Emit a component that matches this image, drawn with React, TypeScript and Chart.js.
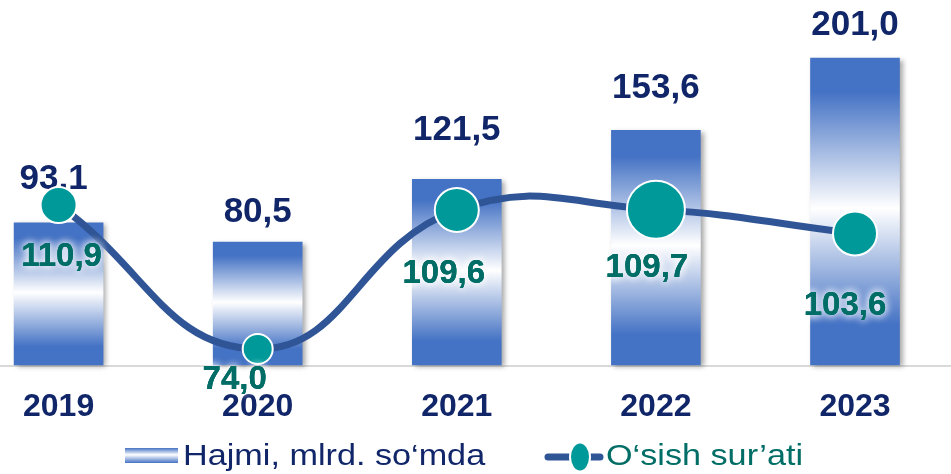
import React, { useEffect, useRef } from 'react';
import { Chart, registerables } from 'chart.js';

Chart.register(...registerables);

// ---- data ----
const years = ['2019', '2020', '2021', '2022', '2023'];
const volume = [93.1, 80.5, 121.5, 153.6, 201.0];
const growth = [110.9, 74.0, 109.6, 109.7, 103.6];
const volumeLabel = 'Hajmi, mlrd. so‘mda';
const growthLabel = 'O‘sish sur’ati';

// ---- styles ----
const FONT = '"Liberation Sans", Arial, sans-serif';
const NAVY = '#102669';
const TEAL_TEXT = '#006E66';
const BAR_BLUE = '#4472C4';
const LINE_BLUE = '#2F5597';
const MARKER = '#009999';
const markerRadius = [18, 15, 22, 29, 22];
const barLabelLift = [43, 30, 49, 42, 33];
const barLabelShiftX = [-5, 0, 0, 0, 0];
const growthLabelDrop = [52, 31, 64, 58, 72];
const growthLabelShiftX = [3, -23, -13, -9, -10];

const fmt = (v: number) => v.toFixed(1).replace('.', ',');

function barGradient(ctx: CanvasRenderingContext2D, top: number, bottom: number) {
  const g = ctx.createLinearGradient(0, top, 0, bottom);
  g.addColorStop(0, BAR_BLUE);
  g.addColorStop(0.11, BAR_BLUE);
  g.addColorStop(0.49, '#FFFFFF');
  g.addColorStop(0.87, BAR_BLUE);
  g.addColorStop(1, BAR_BLUE);
  return g;
}

const decorPlugin = {
  id: 'decor',
  beforeDatasetsDraw(chart: any) {
    const ctx = chart.ctx;
    const y0 = chart.scales.y.getPixelForValue(0);
    ctx.save();
    ctx.strokeStyle = '#D9D9D9';
    ctx.lineWidth = 2;
    ctx.beginPath();
    ctx.moveTo(0, y0 + 1);
    ctx.lineTo(chart.width, y0 + 1);
    ctx.stroke();
    ctx.restore();
  },
  beforeDatasetDraw(chart: any, args: any) {
    if (args.index === 1) {
      const ctx = chart.ctx;
      ctx.save();
      ctx.shadowColor = 'rgba(0,0,0,0.35)';
      ctx.shadowBlur = 5;
      ctx.shadowOffsetX = 3;
      ctx.shadowOffsetY = 2;
    }
  },
  afterDatasetDraw(chart: any, args: any) {
    if (args.index === 1) {
      const ctx = chart.ctx;
      ctx.restore();
      // bar value labels (under the line)
      const meta = chart.getDatasetMeta(1);
      ctx.save();
      ctx.textAlign = 'center';
      ctx.textBaseline = 'middle';
      ctx.font = `bold 35px ${FONT}`;
      ctx.fillStyle = NAVY;
      meta.data.forEach((el: any, i: number) => {
        ctx.fillText(fmt(volume[i]), el.x + barLabelShiftX[i], el.y - barLabelLift[i]);
      });
      ctx.restore();
    }
  },
  afterDatasetsDraw(chart: any) {
    const ctx = chart.ctx;
    const meta = chart.getDatasetMeta(0);
    ctx.save();
    ctx.textAlign = 'center';
    ctx.textBaseline = 'middle';
    ctx.font = `bold 33px ${FONT}`;
    meta.data.forEach((el: any, i: number) => {
      const x = el.x + growthLabelShiftX[i];
      const y = el.y + growthLabelDrop[i];
      ctx.fillStyle = TEAL_TEXT;
      ctx.shadowColor = 'rgba(255,255,255,1)';
      ctx.shadowBlur = 9;
      ctx.fillText(fmt(growth[i]), x, y);
      ctx.fillText(fmt(growth[i]), x, y);
      ctx.shadowBlur = 0;
      ctx.shadowColor = 'transparent';
      ctx.fillText(fmt(growth[i]), x, y);
    });
    ctx.restore();
  },
  afterDraw(chart: any) {
    const ctx = chart.ctx;
    ctx.save();
    // bar legend swatch
    const sx = 125, sy = 448, sw = 53, sh = 15;
    const g = ctx.createLinearGradient(0, sy, 0, sy + sh);
    g.addColorStop(0, BAR_BLUE);
    g.addColorStop(0.45, '#FFFFFF');
    g.addColorStop(1, BAR_BLUE);
    ctx.fillStyle = g;
    ctx.fillRect(sx, sy, sw, sh);
    ctx.textBaseline = 'middle';
    ctx.textAlign = 'left';
    ctx.font = `30px ${FONT}`;
    ctx.save();
    ctx.translate(183, 457);
    ctx.scale(1.14, 1);
    ctx.fillStyle = NAVY;
    ctx.fillText(volumeLabel, 0, 0);
    ctx.restore();
    // line legend symbol
    ctx.strokeStyle = LINE_BLUE;
    ctx.lineWidth = 7;
    ctx.lineCap = 'round';
    ctx.beginPath();
    ctx.moveTo(548, 457);
    ctx.lineTo(600, 457);
    ctx.stroke();
    ctx.beginPath();
    ctx.ellipse(580, 457, 10, 14.5, 0, 0, Math.PI * 2);
    ctx.fillStyle = MARKER;
    ctx.fill();
    ctx.lineWidth = 2;
    ctx.strokeStyle = '#FFFFFF';
    ctx.stroke();
    ctx.save();
    ctx.translate(606, 457);
    ctx.scale(1.14, 1);
    ctx.fillStyle = TEAL_TEXT;
    ctx.fillText(growthLabel, 0, 0);
    ctx.restore();
    ctx.restore();
  },
};

export default function App() {
  const canvasRef = useRef<HTMLCanvasElement | null>(null);

  useEffect(() => {
    if (!canvasRef.current) return;
    const chart = new Chart(canvasRef.current, {
      type: 'bar',
      data: {
        labels: years,
        datasets: [
          {
            type: 'line',
            label: growthLabel,
            data: growth,
            yAxisID: 'y1',
            order: 0,
            borderColor: LINE_BLUE,
            borderWidth: 7,
            tension: 0.45,
            pointRadius: markerRadius,
            pointHoverRadius: markerRadius,
            pointBackgroundColor: MARKER,
            pointBorderColor: '#FFFFFF',
            pointBorderWidth: 2,
            clip: false,
          } as any,
          {
            type: 'bar',
            label: volumeLabel,
            data: volume,
            yAxisID: 'y',
            order: 1,
            barThickness: 89,
            borderWidth: 0,
            clip: false,
            backgroundColor: (c: any) => {
              const chart = c.chart;
              if (!chart.chartArea || c.type !== 'data') return BAR_BLUE;
              const ys = chart.scales.y;
              const top = ys.getPixelForValue(c.raw);
              const bottom = ys.getPixelForValue(0);
              return barGradient(chart.ctx, top, bottom);
            },
          } as any,
        ],
      },
      options: {
        animation: false,
        responsive: true,
        maintainAspectRatio: false,
        layout: { autoPadding: false, padding: { left: 55, right: 96, top: 0, bottom: 0 } },
        plugins: {
          legend: { display: false },
          tooltip: { enabled: false },
        },
        scales: {
          x: {
            type: 'category',
            offset: false,
            grid: { display: false, drawTicks: false, tickLength: 0 },
            border: { display: false },
            ticks: {
              color: NAVY,
              font: { family: FONT, size: 32, weight: 'bold' },
              padding: 23,
              maxRotation: 0,
              autoSkip: false,
            },
            afterFit: (scale: any) => {
              scale.height = 109;
            },
          },
          y: {
            display: false,
            min: 0,
            max: 239,
          },
          y1: {
            display: false,
            position: 'right',
            min: 69.9,
            max: 163.4,
          },
        },
      } as any,
      plugins: [decorPlugin],
    });
    return () => chart.destroy();
  }, []);

  return (
    <div style={{ position: 'absolute', left: 0, top: 0, width: 951, height: 474, background: '#FFFFFF' }}>
      <canvas ref={canvasRef} />
    </div>
  );
}
